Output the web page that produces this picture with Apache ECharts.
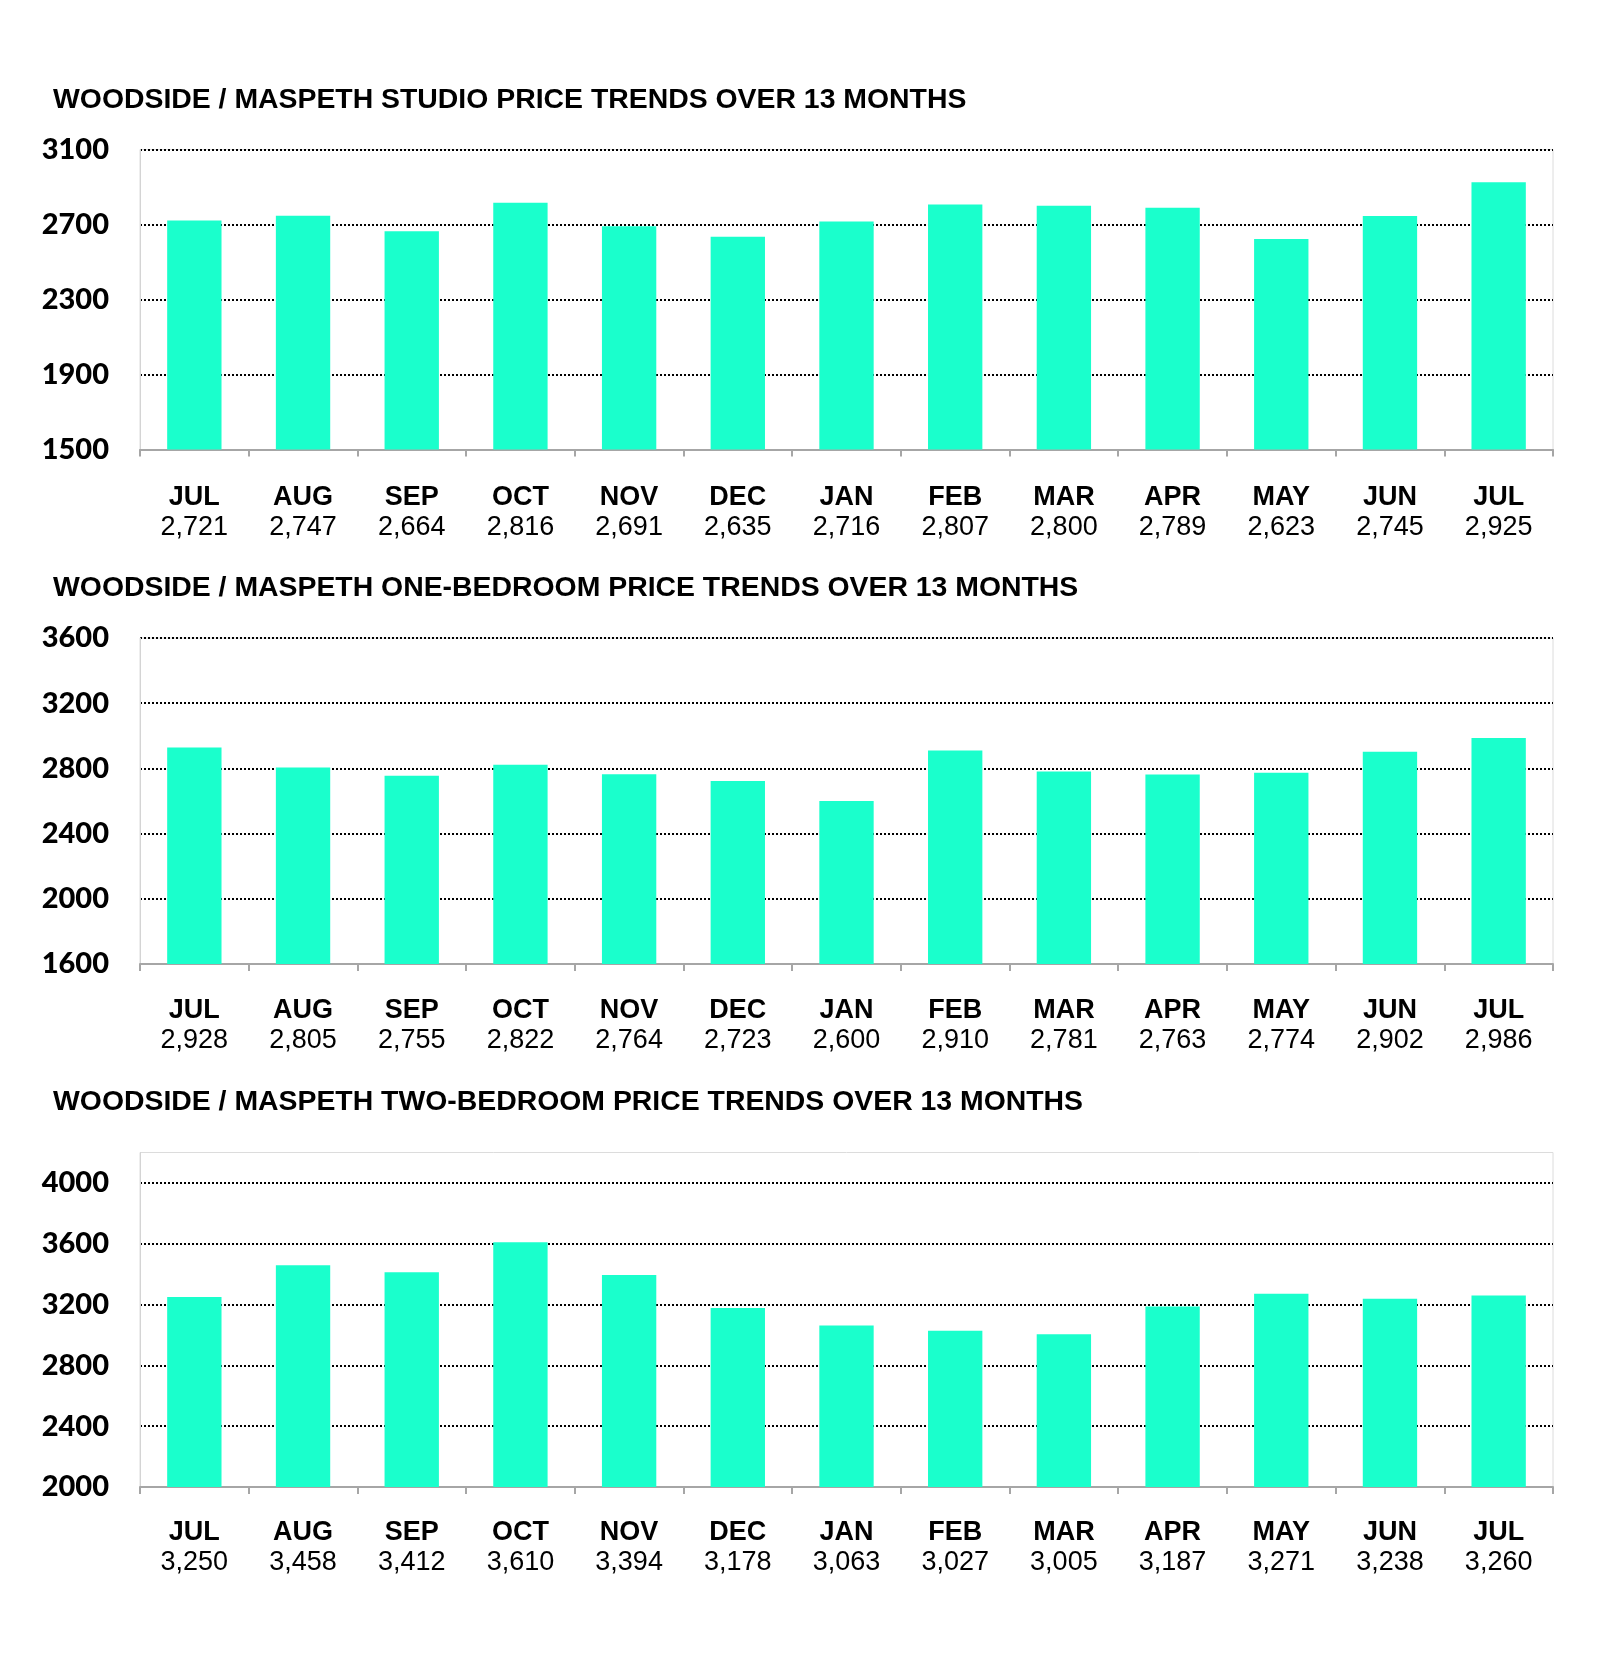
<!DOCTYPE html>
<html>
<head>
<meta charset="utf-8">
<script src="https://cdn.jsdelivr.net/npm/echarts@6/dist/echarts.min.js"></script>
<style>
html,body{margin:0;padding:0;background:#fff;}
#chart{width:1600px;height:1670px;}
</style>
</head>
<body>
<div id="chart"></div>
<script>
const months = ['JUL','AUG','SEP','OCT','NOV','DEC','JAN','FEB','MAR','APR','MAY','JUN','JUL'];
const studioValues = [2721, 2747, 2664, 2816, 2691, 2635, 2716, 2807, 2800, 2789, 2623, 2745, 2925];
const oneBedValues = [2928, 2805, 2755, 2822, 2764, 2723, 2600, 2910, 2781, 2763, 2774, 2902, 2986];
const twoBedValues = [3250, 3458, 3412, 3610, 3394, 3178, 3063, 3027, 3005, 3187, 3271, 3238, 3260];
const titles = [
  'WOODSIDE / MASPETH STUDIO PRICE TRENDS OVER 13 MONTHS',
  'WOODSIDE / MASPETH ONE-BEDROOM PRICE TRENDS OVER 13 MONTHS',
  'WOODSIDE / MASPETH TWO-BEDROOM PRICE TRENDS OVER 13 MONTHS'
];
const yMin = [1500, 1600, 2000];
const yMax = [3100, 3600, 4200];
const yInterval = [400, 400, 400];

const BAR = '#1affcc';
const ARIAL = '"Liberation Sans", Arial, sans-serif';

const layout = [
  {titleTop: 86, top: 149.5, height: 300, margin: 33},
  {titleTop: 574, top: 638, height: 326, margin: 32},
  {titleTop: 1088, top: 1152.5, height: 334.5, margin: 31}
];
const allValues = [studioValues, oneBedValues, twoBedValues];

const fmt = v => v.toLocaleString('en-US');

const option = {
  backgroundColor: '#fff',
  animation: false,
  title: titles.map((t, i) => ({
    text: t, left: 53, top: layout[i].titleTop, padding: 0,
    textStyle: {fontFamily: ARIAL, fontSize: 28.4, fontWeight: 'bold', color: '#000'}
  })),
  grid: layout.map(l => ({
    left: 140, right: 47, top: l.top, height: l.height,
    show: true, borderColor: '#dcdcdc', borderWidth: 1, backgroundColor: 'transparent'
  })),
  xAxis: allValues.map((vals, i) => ({
    type: 'category', gridIndex: i, data: months,
    axisLine: {show: true, lineStyle: {color: '#a6a6a6', width: 2}},
    axisTick: {show: true, length: 7, lineStyle: {color: '#a6a6a6', width: 2}},
    axisLabel: {
      margin: layout[i].margin,
      interval: 0,
      formatter: (val, idx) => '{m|' + val + '}\n{v|' + fmt(vals[idx]) + '}',
      rich: {
        m: {fontFamily: ARIAL, fontSize: 27, fontWeight: 'bold', color: '#000', lineHeight: 30, align: 'center'},
        v: {fontFamily: ARIAL, fontSize: 27, color: '#000', lineHeight: 30, align: 'center'}
      }
    }
  })),
  yAxis: allValues.map((vals, i) => ({
    type: 'value', gridIndex: i, min: yMin[i], max: yMax[i], interval: yInterval[i],
    axisLine: {show: true, lineStyle: {color: '#d4d4d4', width: 1}},
    axisTick: {show: false},
    axisLabel: {
      margin: 31, showMaxLabel: i !== 2,
      formatter: v => String(v),
      fontFamily: 'Lato, "Open Sans", sans-serif', fontSize: 29, fontWeight: 900, color: '#000'
    },
    splitLine: {
      show: true, showMaxLine: i !== 2,
      lineStyle: {color: '#000', width: 2, type: [2, 2]}
    }
  })),
  series: allValues.map((vals, i) => ({
    type: 'bar', xAxisIndex: i, yAxisIndex: i, data: vals,
    barWidth: '50%', itemStyle: {color: BAR}, z: 3
  }))
};

const chart = echarts.init(document.getElementById('chart'), null, {renderer: 'canvas'});
chart.setOption(option);
</script>
</body>
</html>
